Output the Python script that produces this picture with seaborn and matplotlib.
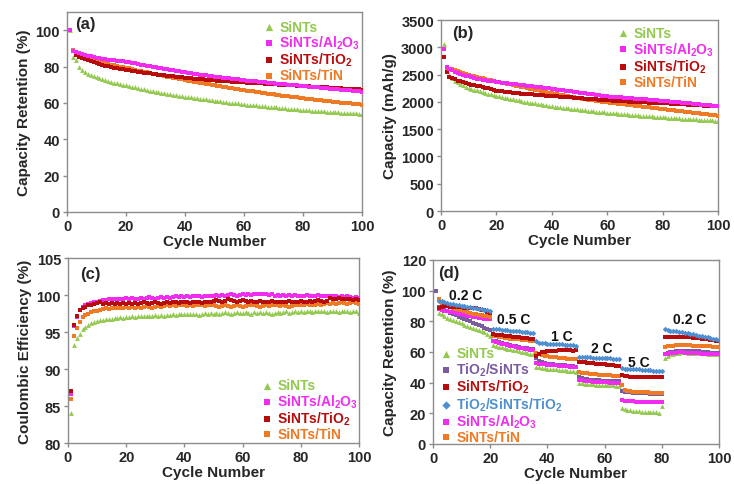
import numpy as np
import pandas as pd
import matplotlib
matplotlib.use("Agg")
import matplotlib.pyplot as plt
import seaborn as sns

# ---------------- data ----------------
cycles = list(range(1, 101))

# (a) capacity retention (%)
a_sints = [100, 85, 83.5, 80, 78, 77, 76, 75.3, 74.6, 74, 73.5, 73, 72.5, 72, 71.6, 71.2, 70.8, 70.4, 70, 69.6,
           69.2, 68.9, 68.5, 68.2, 67.8, 67.5, 67.2, 66.8, 66.5, 66.2, 65.9, 65.6, 65.3, 65.0, 64.8, 64.5, 64.2, 64.0, 63.7, 63.5,
           63.2, 63.0, 62.8, 62.5, 62.3, 62.1, 61.9, 61.7, 61.4, 61.2, 61.0, 60.8, 60.6, 60.4, 60.2, 60.0, 59.8, 59.7, 59.5, 59.3,
           59.1, 58.9, 58.8, 58.6, 58.4, 58.3, 58.1, 57.9, 57.8, 57.6, 57.5, 57.3, 57.2, 57.0, 56.9, 56.7, 56.6, 56.5, 56.3, 56.2,
           56.1, 55.9, 55.8, 55.7, 55.6, 55.4, 55.3, 55.2, 55.1, 55.0, 54.9, 54.8, 54.7, 54.6, 54.5, 54.4, 54.3, 54.2, 54.1, 54.0]
a_al2o3 = [100, 88.5, 88, 87.5, 87, 86.5, 86, 85.6, 85.2, 84.8, 84.5, 84.2, 84.0, 83.8, 83.6, 83.4, 83.2, 83.0, 82.8, 82.6,
           82.3, 82.0, 81.7, 81.4, 81.1, 80.8, 80.5, 80.2, 79.9, 79.6, 79.3, 79.0, 78.7, 78.4, 78.1, 77.9, 77.6, 77.4, 77.1, 76.9,
           76.6, 76.4, 76.1, 75.9, 75.6, 75.4, 75.2, 74.9, 74.7, 74.5, 74.3, 74.1, 73.9, 73.7, 73.5, 73.3, 73.1, 72.9, 72.7, 72.5,
           72.3, 72.2, 72.0, 71.8, 71.6, 71.5, 71.3, 71.1, 71.0, 70.8, 70.6, 70.5, 70.3, 70.2, 70.0, 69.9, 69.7, 69.6, 69.4, 69.3,
           69.1, 69.0, 68.8, 68.7, 68.5, 68.4, 68.2, 68.1, 67.9, 67.8, 67.6, 67.5, 67.3, 67.2, 67.0, 66.9, 66.7, 66.5, 66.3, 66.0]
a_tio2 = [100, 88.5, 86.5, 85.5, 84.8, 84.0, 83.4, 82.8, 82.3, 81.8, 81.3, 80.9, 80.5, 80.1, 79.7, 79.4, 79.1, 78.8, 78.5, 78.2,
          77.9, 77.7, 77.4, 77.2, 76.9, 76.7, 76.4, 76.2, 76.0, 75.8, 75.6, 75.4, 75.2, 75.0, 74.8, 74.6, 74.4, 74.2, 74.1, 73.9,
          73.7, 73.5, 73.4, 73.2, 73.1, 72.9, 72.8, 72.6, 72.5, 72.4, 72.3, 72.1, 72.0, 71.9, 71.8, 71.7, 71.6, 71.5, 71.4, 71.3,
          71.2, 71.1, 71.0, 70.9, 70.8, 70.7, 70.6, 70.5, 70.4, 70.3, 70.2, 70.1, 70.0, 69.9, 69.8, 69.7, 69.6, 69.5, 69.4, 69.3,
          69.2, 69.1, 69.0, 68.9, 68.8, 68.7, 68.6, 68.5, 68.4, 68.3, 68.2, 68.1, 68.0, 67.9, 67.8, 67.7, 67.6, 67.5, 67.4, 67.3]
a_tin = [100, 89, 87.5, 86.5, 85.8, 85.1, 84.5, 83.9, 83.4, 82.9, 82.5, 82.1, 81.7, 81.3, 80.9, 80.6, 80.3, 80.0, 79.7, 79.4,
         79.0, 78.6, 78.2, 77.8, 77.5, 77.1, 76.8, 76.4, 76.1, 75.8, 75.4, 75.1, 74.8, 74.4, 74.1, 73.8, 73.5, 73.2, 72.9, 72.6,
         72.3, 72.0, 71.7, 71.4, 71.1, 70.8, 70.5, 70.2, 70.0, 69.7, 69.4, 69.1, 68.9, 68.6, 68.3, 68.0, 67.8, 67.5, 67.3, 67.0,
         66.8, 66.5, 66.3, 66.0, 65.8, 65.6, 65.3, 65.1, 64.9, 64.7, 64.5, 64.2, 64.0, 63.8, 63.6, 63.4, 63.2, 63.0, 62.8, 62.6,
         62.4, 62.2, 62.0, 61.8, 61.6, 61.4, 61.3, 61.1, 60.9, 60.7, 60.5, 60.4, 60.2, 60.0, 59.9, 59.7, 59.5, 59.4, 59.2, 59.0]

# (b) capacity (mAh/g)
b_sints = [3060, 2580, 2500, 2440, 2390, 2360, 2330, 2300, 2280, 2260, 2240, 2225, 2210, 2195, 2180, 2165, 2150, 2140, 2125, 2112,
           2100, 2090, 2078, 2066, 2055, 2045, 2035, 2025, 2015, 2005, 1996, 1987, 1978, 1970, 1961, 1953, 1945, 1937, 1929, 1920,
           1913, 1906, 1899, 1892, 1885, 1879, 1872, 1866, 1860, 1854, 1848, 1842, 1837, 1831, 1826, 1821, 1816, 1811, 1806, 1801,
           1796, 1792, 1787, 1783, 1778, 1774, 1770, 1766, 1762, 1758, 1754, 1750, 1746, 1742, 1738, 1734, 1730, 1726, 1722, 1718,
           1715, 1711, 1708, 1704, 1701, 1698, 1694, 1691, 1688, 1685, 1682, 1679, 1676, 1673, 1670, 1667, 1664, 1661, 1658, 1655]
b_al2o3 = [2970, 2630, 2600, 2575, 2550, 2530, 2512, 2495, 2480, 2465, 2452, 2440, 2428, 2418, 2408, 2399, 2390, 2382, 2374, 2366,
           2360, 2354, 2348, 2342, 2335, 2329, 2323, 2316, 2310, 2303, 2297, 2291, 2284, 2278, 2272, 2265, 2259, 2252, 2246, 2240,
           2233, 2226, 2219, 2212, 2205, 2198, 2191, 2184, 2177, 2170, 2163, 2156, 2149, 2142, 2135, 2128, 2121, 2114, 2107, 2100,
           2096, 2092, 2088, 2084, 2080, 2076, 2072, 2068, 2064, 2060, 2056, 2052, 2048, 2044, 2040, 2036, 2032, 2028, 2024, 2020,
           2015, 2010, 2005, 2000, 1995, 1990, 1985, 1980, 1975, 1970, 1965, 1960, 1955, 1950, 1945, 1940, 1935, 1930, 1924, 1917]
b_tio2 = [2816, 2540, 2450, 2430, 2410, 2390, 2375, 2360, 2345, 2330, 2318, 2306, 2295, 2284, 2273, 2262, 2250, 2235, 2220, 2205,
          2198, 2192, 2186, 2180, 2174, 2168, 2163, 2158, 2153, 2148, 2144, 2140, 2136, 2132, 2128, 2124, 2120, 2116, 2112, 2108,
          2104, 2100, 2096, 2092, 2088, 2084, 2080, 2076, 2072, 2068, 2064, 2060, 2056, 2052, 2048, 2044, 2040, 2036, 2032, 2028,
          2025, 2022, 2019, 2016, 2013, 2010, 2007, 2004, 2001, 1998, 1996, 1994, 1992, 1990, 1988, 1986, 1984, 1982, 1980, 1978,
          1975, 1972, 1969, 1966, 1963, 1960, 1957, 1954, 1951, 1948, 1945, 1942, 1939, 1936, 1933, 1930, 1927, 1924, 1921, 1917]
b_tin = [2960, 2600, 2610, 2595, 2580, 2562, 2545, 2528, 2512, 2496, 2482, 2468, 2455, 2442, 2430, 2418, 2406, 2394, 2382, 2370,
         2360, 2350, 2340, 2330, 2320, 2309, 2298, 2287, 2276, 2265, 2254, 2243, 2232, 2221, 2210, 2199, 2188, 2177, 2166, 2155,
         2146, 2137, 2128, 2119, 2110, 2101, 2092, 2083, 2074, 2065, 2057, 2049, 2041, 2033, 2025, 2018, 2011, 2004, 1997, 1990,
         1984, 1978, 1972, 1966, 1960, 1954, 1948, 1942, 1936, 1930, 1924, 1918, 1912, 1906, 1900, 1894, 1888, 1882, 1876, 1870,
         1864, 1858, 1852, 1846, 1840, 1834, 1828, 1822, 1816, 1810, 1804, 1798, 1792, 1786, 1780, 1774, 1768, 1762, 1756, 1750]

# (c) coulombic efficiency (%)
c_sints = [84.0, 93.2, 94.2, 94.7, 95.4, 95.7, 96.0, 96.2, 96.3, 96.5, 96.6, 96.6, 96.7, 96.8, 96.8, 96.9, 96.9, 97.0, 96.9, 97.0,
           97.0, 97.1, 97.0, 97.1, 97.2, 97.1, 97.2, 97.1, 97.2, 97.3, 97.2, 97.3, 97.2, 97.3, 97.3, 97.4, 97.3, 97.5, 97.4, 97.5,
           97.4, 97.5, 97.4, 97.5, 97.3, 97.5, 97.6, 97.5, 97.6, 97.5, 97.6, 97.5, 97.6, 97.7, 97.6, 97.5, 97.6, 97.7, 97.6, 97.6,
           97.7, 97.6, 97.5, 97.7, 97.6, 97.7, 97.6, 97.7, 97.6, 97.5, 97.6, 97.7, 97.6, 97.7, 97.8, 97.6, 97.7, 97.8, 97.7, 97.8,
           97.7, 97.8, 97.9, 97.7, 97.8, 97.9, 97.8, 97.9, 97.7, 97.8, 97.9, 97.8, 97.7, 97.8, 97.9, 97.8, 97.7, 97.8, 97.9, 97.6]
c_al2o3 = [86.6, 95.8, 97.0, 98.0, 98.4, 98.6, 98.8, 98.9, 99.0, 99.1, 99.2, 99.3, 99.3, 99.4, 99.4, 99.5, 99.4, 99.5, 99.5, 99.6,
           99.5, 99.6, 99.5, 99.4, 99.6, 99.5, 99.6, 99.7, 99.6, 99.5, 99.6, 99.7, 99.6, 99.7, 99.6, 99.7, 99.8, 99.7, 99.8, 99.7,
           99.8, 99.7, 99.8, 99.9, 99.8, 99.7, 99.8, 99.9, 99.8, 99.9, 100.0, 99.9, 100.0, 99.9, 100.0, 100.1, 100.0, 99.9, 100.0, 100.1,
           100.0, 100.1, 100.0, 100.1, 100.2, 100.1, 100.2, 100.1, 100.0, 100.1, 99.9, 100.0, 99.9, 100.0, 99.9, 100.0, 99.9, 100.0, 99.9, 99.8,
           99.9, 100.0, 99.9, 99.8, 99.9, 100.0, 99.9, 99.8, 99.9, 99.8, 99.9, 99.8, 99.7, 99.8, 99.7, 99.8, 99.7, 99.6, 99.7, 99.6]
c_tio2 = [87.0, 96.0, 97.2, 98.0, 98.2, 98.4, 98.6, 98.7, 98.8, 98.9, 99.0, 98.8, 98.9, 98.8, 98.9, 98.8, 98.9, 98.8, 98.9, 98.8,
          98.9, 98.8, 98.9, 98.8, 98.9, 99.0, 98.9, 98.8, 98.9, 99.0, 98.9, 98.8, 98.9, 99.0, 98.9, 99.0, 99.1, 98.9, 99.0, 99.1,
          99.0, 98.9, 99.0, 99.1, 99.0, 98.9, 99.0, 99.1, 99.0, 99.2, 99.3, 99.2, 99.1, 99.2, 99.4, 99.3, 99.2, 99.1, 99.2, 99.3,
          99.2, 99.1, 99.2, 99.1, 99.0, 99.2, 99.1, 99.0, 99.1, 99.2, 99.1, 99.0, 99.1, 99.0, 99.1, 99.2, 99.1, 99.0, 99.1, 99.2,
          99.1, 99.0, 99.2, 99.1, 99.2, 99.3, 99.2, 99.1, 99.2, 99.6, 99.5, 99.4, 99.6, 99.5, 99.4, 99.5, 99.4, 99.3, 99.4, 99.3]
c_tin = [86.0, 94.5, 95.6, 96.4, 97.0, 97.3, 97.5, 97.7, 97.8, 97.9, 98.0, 98.1, 98.2, 98.1, 98.2, 98.3, 98.2, 98.3, 98.2, 98.4,
         98.3, 98.4, 98.3, 98.4, 98.3, 98.4, 98.5, 98.4, 98.3, 98.4, 98.5, 98.4, 98.5, 98.6, 98.5, 98.6, 98.5, 98.6, 98.7, 98.6,
         98.5, 98.6, 98.5, 98.6, 98.7, 98.6, 98.5, 98.6, 98.7, 98.6, 98.5, 98.4, 98.5, 98.6, 98.5, 98.4, 98.5, 98.6, 98.5, 98.4,
         98.5, 98.6, 98.7, 98.6, 98.5, 98.4, 98.5, 98.6, 98.5, 98.6, 98.7, 98.6, 98.5, 98.6, 98.5, 98.4, 98.5, 98.6, 98.7, 98.6,
         98.7, 98.8, 98.7, 98.6, 98.7, 98.8, 98.7, 98.8, 98.9, 98.8, 98.9, 98.8, 98.9, 99.0, 98.9, 98.8, 98.9, 99.0, 98.9, 98.8]

# (d) rate capability, capacity retention (%); None = no visible point
d_sints = [None, 85.5, 84.5, 83.5, 82.5, 81.6, 80.8, 80.0, 79.3, 78.6, 77.9, 77.2, 76.5, 75.8, 75.1, 74.4, 73.7, 73.0, 72.0, 70.5,
           64.5, 64.0, 63.5, 63.0, 62.6, 62.2, 61.8, 61.4, 61.0, 60.6, 60.2, 59.8, 59.4, 59.0, 58.5,
           50.5, 50.0, 49.7, 49.4, 49.2, 49.0, 48.8, 48.6, 48.4, 48.2, 48.0, 47.8, 47.6, 47.4, 47.0,
           40.0, 39.6, 39.4, 39.2, 39.0, 38.9, 38.8, 38.7, 38.6, 38.5, 38.4, 38.3, 38.2, 38.0, 37.8,
           23.5, 22.8, 22.2, 21.9, 21.6, 21.4, 21.2, 21.1, 21.0, 20.9, 20.8, 20.7, 20.6, 20.5, 24.5,
           56.0, 57.5, 58.5, 59.0, 59.4, 59.6, 59.7, 59.7, 59.6, 59.6, 59.5, 59.4, 59.3, 59.2, 59.1, 59.0, 58.9, 58.8, 58.7, 58.6]
d_tio2_sints = [100, 89.5, 88.5, 87.5, 86.5, 85.6, 84.7, 83.9, 83.1, 82.3, 81.5, 80.7, 79.9, 79.1, 78.3, 77.5, 76.7, 75.9, 75.1, 74.3,
                67.5, 66.9, 66.4, 65.9, 65.4, 64.9, 64.5, 64.1, 63.7, 63.3, 62.9, 62.6, 62.3, 62.0, 61.7,
                56.0, 54.0, 53.2, 52.8, 52.5, 52.2, 52.0, 51.8, 51.6, 51.4, 51.2, 51.0, 50.8, 50.6, 50.4,
                43.5, 42.8, 42.4, 42.2, 42.0, 41.8, 41.6, 41.5, 41.4, 41.3, 41.2, 41.1, 41.0, 40.9, 40.8,
                34.5, 34.0, 33.8, 33.6, 33.5, 33.4, 33.3, 33.2, 33.1, 33.0, 32.9, 32.8, 32.8, 32.7, 32.7,
                59.0, 59.6, 60.0, 60.2, 60.4, 60.5, 60.6, 60.7, 60.8, 60.8, 60.7, 60.6, 60.4, 60.2, 60.0, 59.8, 59.6, 59.4, 59.3, 59.2]
d_sints_tio2 = [None, 89.0, 89.5, 90.0, 89.8, 89.6, 89.4, 89.3, 89.2, 89.1, 89.0, 89.0, 88.9, 88.8, 88.6, 88.2, 87.7, 87.1, 86.4, 85.5,
                71.5, 71.3, 71.1, 70.9, 70.7, 70.5, 70.2, 70.0, 69.8, 69.6, 69.4, 69.2, 69.0, 68.8, 68.4,
                57.5, 59.0, 59.8, 60.2, 60.5, 60.7, 60.8, 60.9, 61.0, 61.0, 61.0, 61.1, 61.0, 60.9, 61.2,
                53.5, 53.4, 53.3, 53.1, 52.9, 52.7, 52.5, 52.3, 52.1, 51.9, 51.7, 51.5, 51.3, 51.1, 50.9,
                45.0, 44.5, 44.2, 44.0, 43.9, 43.8, 43.8, 43.7, 43.7, 43.6, 43.6, 43.6, 43.5, 43.5, 43.5,
                69.5, 70.0, 70.1, 70.1, 70.0, 69.9, 69.8, 69.7, 69.6, 69.5, 69.4, 69.2, 69.0, 68.8, 68.6, 68.3, 68.0, 67.7, 67.4, 67.1]
d_tio2_sints_tio2 = [None, 93.5, 93.0, 92.5, 92.0, 91.6, 91.2, 90.8, 90.4, 90.0, 89.7, 89.4, 89.1, 88.8, 88.5, 88.2, 87.9, 87.6, 87.2, 86.8,
                     75.2, 75.0, 74.8, 74.6, 74.4, 74.2, 74.0, 73.8, 73.7, 73.5, 73.3, 73.1, 72.9, 72.7, 72.5,
                     67.5, 66.0, 65.8, 65.6, 65.5, 65.4, 65.3, 65.2, 65.0, 64.9, 64.8, 64.6, 64.5, 64.4, 64.2,
                     57.0, 56.8, 56.7, 56.6, 56.5, 56.4, 56.3, 56.2, 56.1, 56.0, 55.9, 55.8, 55.7, 55.6, 55.5,
                     49.5, 49.2, 49.0, 48.9, 48.8, 48.7, 48.6, 48.5, 48.4, 48.2, 48.0, 47.9, 47.8, 47.7, 47.9,
                     74.8, 74.3, 74.0, 73.7, 73.4, 73.1, 72.8, 72.5, 72.2, 71.9, 71.5, 71.1, 70.7, 70.3, 69.9, 69.5, 69.1, 68.7, 68.3, 67.9]
d_al2o3 = [None, 88.0, 87.5, 87.0, 86.6, 86.2, 85.8, 85.4, 85.0, 84.6, 84.2, 83.8, 83.4, 83.0, 82.7, 82.4, 82.1, 81.8, 81.5, 81.2,
           67.0, 66.4, 65.9, 65.4, 64.9, 64.4, 64.0, 63.6, 63.2, 62.8, 62.4, 62.1, 61.8, 61.5, 61.2,
           53.0, 52.5, 52.2, 52.0, 51.8, 51.6, 51.4, 51.2, 51.0, 50.9, 50.8, 50.6, 50.5, 50.4, 50.2,
           42.0, 41.6, 41.3, 41.1, 40.9, 40.7, 40.6, 40.5, 40.4, 40.3, 40.2, 40.1, 40.0, 39.9, 39.8,
           28.5, 28.2, 28.0, 27.9, 27.8, 27.7, 27.6, 27.5, 27.4, 27.3, 27.3, 27.2, 27.2, 27.1, 27.1,
           58.5, 59.0, 59.3, 59.5, 59.6, 59.7, 59.7, 59.6, 59.5, 59.4, 59.3, 59.2, 59.1, 59.0, 58.9, 58.8, 58.7, 58.6, 58.5, 58.4]
d_tin = [None, 94.5, 92.0, 91.0, 90.2, 89.5, 88.9, 88.3, 87.7, 87.1, 86.6, 86.1, 85.6, 85.1, 84.7, 84.3, 83.9, 83.6, 83.3, 83.0,
         70.5, 70.2, 69.9, 69.6, 69.3, 69.0, 68.8, 68.6, 68.4, 68.2, 68.0, 67.8, 67.6, 67.5, 67.3,
         59.5, 58.5, 58.0, 57.6, 57.3, 57.0, 56.7, 56.5, 56.3, 56.1, 55.9, 55.7, 55.6, 55.5, 55.4,
         47.0, 46.6, 46.3, 46.0, 45.8, 45.6, 45.4, 45.2, 45.0, 44.9, 44.8, 44.7, 44.6, 44.5, 44.4,
         38.5, 35.0, 34.5, 34.3, 34.1, 34.0, 33.9, 33.8, 33.7, 33.6, 33.5, 33.4, 33.3, 33.2, 33.1,
         63.5, 63.8, 64.0, 64.2, 64.3, 64.4, 64.4, 64.4, 64.3, 64.3, 64.2, 64.1, 64.0, 63.9, 63.8, 63.7, 63.6, 63.5, 63.4, 63.3]

rate_labels = ["0.2 C", "0.5 C", "1 C", "2 C", "5 C", "0.2 C"]
rate_label_x = [5.6, 22.4, 41.2, 55.4, 68.3, 84.0]
rate_label_y = [97.0, 81.3, 70.4, 62.8, 53.5, 81.3]

# ---------------- style ----------------
sns.set_theme(style="white")
plt.rcParams["font.family"] = ["Liberation Sans", "DejaVu Sans"]
plt.rcParams["font.weight"] = "bold"
plt.rcParams["mathtext.default"] = "regular"

GREEN = "#92C94E"
MAGENTA = "#F02CF0"
RED = "#B80C0C"
ORANGE = "#EE7A24"
PURPLE = "#7B5BA0"
BLUE = "#4F8FD0"
SPINE = "#8C8C8C"

lab_al = "SiNTs/Al$_2$O$_3$"
lab_ti = "SiNTs/TiO$_2$"
lab_tn = "SiNTs/TiN"

fig = plt.figure(figsize=(7.34, 4.85), dpi=100)
W, H = 734.0, 485.0


def make_ax(x0, x1, ytop, ybot):
    return fig.add_axes([x0 / W, 1 - ybot / H, (x1 - x0) / W, (ybot - ytop) / H])


def style_ax(ax, ylim, yticks, ylabel, xlabel="Cycle Number"):
    ax.set_xlim(0, 100)
    ax.set_ylim(*ylim)
    ax.set_xticks([0, 20, 40, 60, 80, 100])
    ax.set_yticks(yticks)
    for s in ax.spines.values():
        s.set_color(SPINE)
        s.set_linewidth(1.0)
    ax.tick_params(axis="both", direction="out", length=3, width=1, color=SPINE,
                   labelsize=10.5, pad=2, left=True, bottom=True)
    for t in ax.get_xticklabels() + ax.get_yticklabels():
        t.set_fontweight("bold")
    ax.set_xlabel(xlabel, fontsize=11, fontweight="bold", labelpad=1)
    ax.set_ylabel(ylabel, fontsize=11, fontweight="bold", labelpad=3)


def scat(ax, y, color, marker, label, s=9, z=2):
    df = pd.DataFrame({"cycle": cycles, "val": pd.array(y, dtype="Float64").astype(float)})
    sns.scatterplot(data=df, x="cycle", y="val", ax=ax, color=color, marker=marker,
                    s=s, linewidth=0, label=label, zorder=z, legend=False)


def add_legend(ax, order_labels, colors, bx, by, ms=1.5):
    handles, labels = ax.get_legend_handles_labels()
    hmap = dict(zip(labels, handles))
    hs = [hmap[l] for l in order_labels]
    leg = ax.legend(hs, order_labels, loc="upper left", bbox_to_anchor=(bx, by),
                    frameon=False, fontsize=10, handlelength=0.8, handletextpad=0.35,
                    labelspacing=0.0, borderpad=0, borderaxespad=0, markerscale=ms)
    for t, c in zip(leg.get_texts(), colors):
        t.set_color(c)
        t.set_fontweight("bold")
    return leg


# ---- (a) ----
ax = make_ax(67, 362, 13, 213)
scat(ax, a_sints, GREEN, "^", "SiNTs", s=12, z=2)
scat(ax, a_tin, ORANGE, "s", lab_tn, z=3)
scat(ax, a_tio2, RED, "s", lab_ti, z=4)
scat(ax, a_al2o3, MAGENTA, "s", lab_al, z=5)
style_ax(ax, (0, 110), [0, 20, 40, 60, 80, 100], "Capacity Retention (%)")
add_legend(ax, ["SiNTs", lab_al, lab_ti, lab_tn], [GREEN, MAGENTA, RED, ORANGE], 0.666, 0.962)
ax.text(0.027, 0.94, "(a)", transform=ax.transAxes, fontsize=12, fontweight="bold", va="center", ha="left")

# ---- (b) ----
ax = make_ax(441, 718, 21, 212)
scat(ax, b_sints, GREEN, "^", "SiNTs", s=12, z=2)
scat(ax, b_tin, ORANGE, "s", lab_tn, z=3)
scat(ax, b_tio2, RED, "s", lab_ti, z=4)
scat(ax, b_al2o3, MAGENTA, "s", lab_al, z=5)
style_ax(ax, (0, 3500), list(range(0, 3501, 500)), "Capacity (mAh/g)")
add_legend(ax, ["SiNTs", lab_al, lab_ti, lab_tn], [GREEN, MAGENTA, RED, ORANGE], 0.637, 0.968)
ax.text(0.039, 0.936, "(b)", transform=ax.transAxes, fontsize=12, fontweight="bold", va="center", ha="left")

# ---- (c) ----
ax = make_ax(68, 359, 259, 444)
scat(ax, c_sints, GREEN, "^", "SiNTs", s=12, z=2)
scat(ax, c_tin, ORANGE, "s", lab_tn, z=3)
scat(ax, c_al2o3, MAGENTA, "s", lab_al, z=4)
scat(ax, c_tio2, RED, "s", lab_ti, z=5)
style_ax(ax, (80, 105), [80, 85, 90, 95, 100, 105], "Coulombic Efficiency (%)")
add_legend(ax, ["SiNTs", lab_al, lab_ti, lab_tn], [GREEN, MAGENTA, RED, ORANGE], 0.665, 0.350)
ax.text(0.041, 0.914, "(c)", transform=ax.transAxes, fontsize=12, fontweight="bold", va="center", ha="left")

# ---- (d) ----
ax = make_ax(433, 719, 261, 445)
lab_ts = "TiO$_2$/SiNTs"
lab_tst = "TiO$_2$/SiNTs/TiO$_2$"
scat(ax, d_sints, GREEN, "^", "SiNTs", s=12, z=2)
scat(ax, d_tio2_sints, PURPLE, "s", lab_ts, z=3)
scat(ax, d_al2o3, MAGENTA, "s", lab_al, z=4)
scat(ax, d_tin, ORANGE, "s", lab_tn, z=5)
scat(ax, d_sints_tio2, RED, "s", lab_ti, z=6)
scat(ax, d_tio2_sints_tio2, BLUE, "D", lab_tst, s=8, z=7)
style_ax(ax, (0, 120), [0, 20, 40, 60, 80, 100, 120], "Capacity Retention (%)")
add_legend(ax, ["SiNTs", lab_ts, lab_ti, lab_tst, lab_al, lab_tn],
           [GREEN, PURPLE, RED, BLUE, MAGENTA, ORANGE], 0.026, 0.530)
ax.text(0.019, 0.933, "(d)", transform=ax.transAxes, fontsize=12, fontweight="bold", va="center", ha="left")
for lx, ly, lt in zip(rate_label_x, rate_label_y, rate_labels):
    ax.text(lx, ly, lt, fontsize=10, fontweight="bold", ha="left", va="center", color="#111111")

fig.savefig("out.png", dpi=100)
